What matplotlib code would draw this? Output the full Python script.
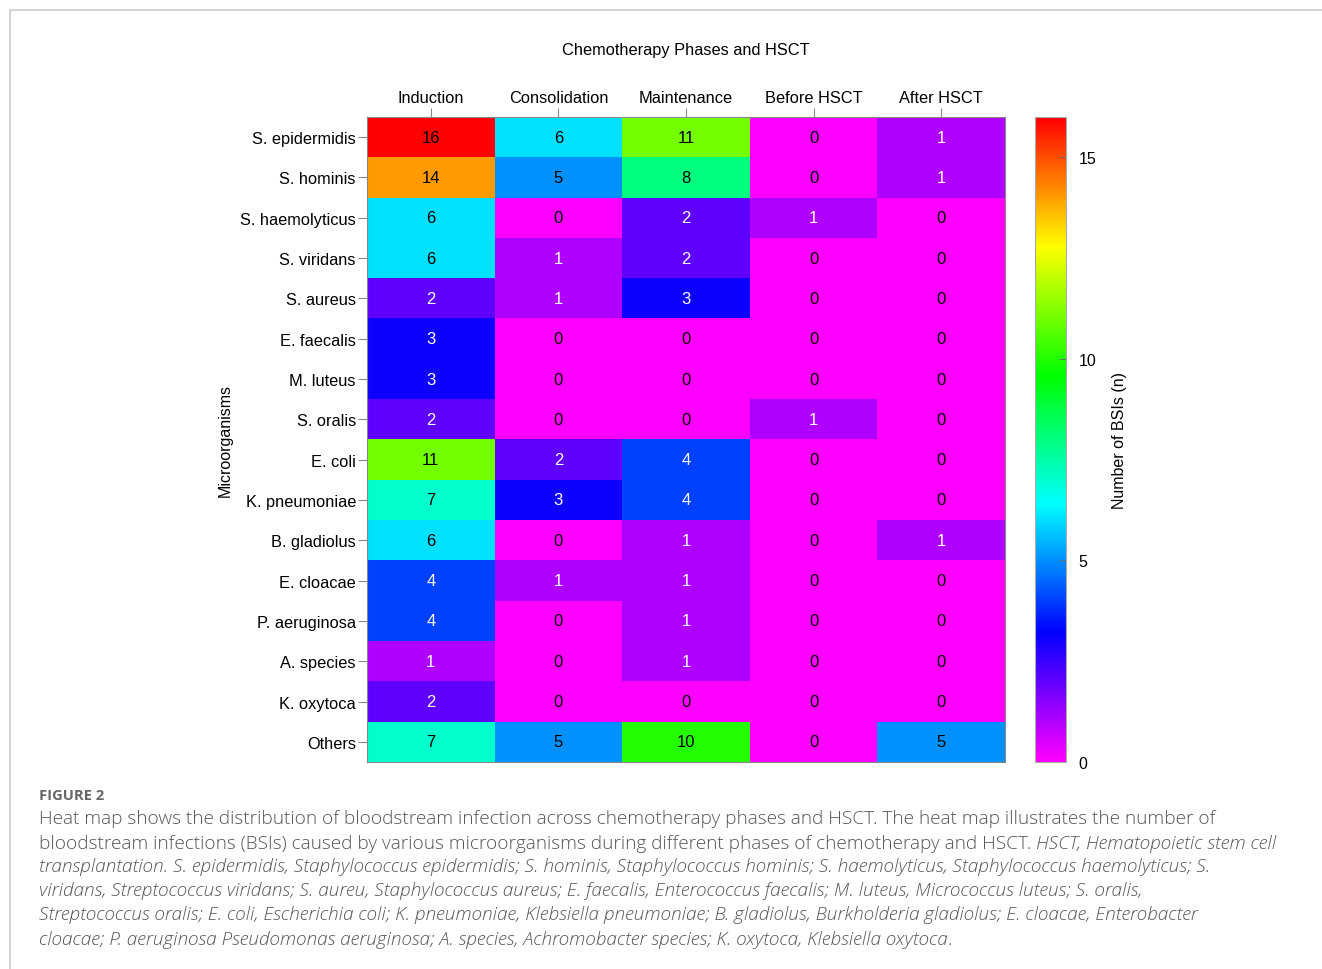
import numpy as np
import matplotlib
matplotlib.use('Agg')
import matplotlib.pyplot as plt
from matplotlib.colors import LinearSegmentedColormap, hsv_to_rgb
from matplotlib.patches import Rectangle

# Heat map of BSIs by organism and chemotherapy phase

organisms = ['S. epidermidis', 'S. hominis', 'S. haemolyticus', 'S. viridans', 'S. aureus',
             'E. faecalis', 'M. luteus', 'S. oralis', 'E. coli', 'K. pneumoniae',
             'B. gladiolus', 'E. cloacae', 'P. aeruginosa', 'A. species', 'K. oxytoca', 'Others']
phases = ['Induction', 'Consolidation', 'Maintenance', 'Before HSCT', 'After HSCT']

induction = [16, 14, 6, 6, 2, 3, 3, 2, 11, 7, 6, 4, 4, 1, 2, 7]
consolidation = [6, 5, 0, 1, 1, 0, 0, 0, 2, 3, 0, 1, 0, 0, 0, 5]
maintenance = [11, 8, 2, 2, 3, 0, 0, 0, 4, 4, 1, 1, 1, 1, 0, 10]
before_hsct = [0, 0, 1, 0, 0, 0, 0, 1, 0, 0, 0, 0, 0, 0, 0, 0]
after_hsct = [1, 1, 0, 0, 0, 0, 0, 0, 0, 0, 1, 0, 0, 0, 0, 5]

cbar_ticks = [0, 5, 10, 15]

counts = np.array([induction, consolidation, maintenance, before_hsct, after_hsct]).T

# magenta -> blue -> cyan -> green -> yellow -> red
hues = np.linspace(300, 0, 256) / 360.0
cols = hsv_to_rgb(np.stack([hues, np.ones_like(hues), np.ones_like(hues)], axis=1))
cmap = LinearSegmentedColormap.from_list('rainbow_rev', cols)

plt.rcParams['font.family'] = ['Liberation Sans', 'DejaVu Sans']

fig = plt.figure(figsize=(13.22, 9.70), dpi=100)
W, H = 1322, 970

# light grey frame around the figure
fig.patches.append(Rectangle((10 / W, -0.05), 1.2, 1 - 11 / H + 0.05, transform=fig.transFigure,
                             fill=False, edgecolor='#cccccc', linewidth=1.2))

ax = fig.add_axes([367 / W, 1 - 763 / H, (1005 - 367) / W, (763 - 118) / H])
im = ax.imshow(counts, cmap=cmap, vmin=0, vmax=16, aspect='auto', interpolation='nearest')

for i in range(counts.shape[0]):
    for j in range(counts.shape[1]):
        v = counts[i, j]
        c = 'white' if 1 <= v <= 4 else 'black'
        ax.text(j, i, str(v), ha='center', va='center', fontsize=12, color=c)

ax.xaxis.tick_top()
ax.set_xticks(range(len(phases)))
ax.set_xticklabels(phases, fontsize=11.8)
ax.set_yticks(range(len(organisms)))
ax.set_yticklabels(organisms, fontsize=11.8)
ax.tick_params(axis='both', length=6.5, width=0.8, color='#888888', pad=1.5)
ax.tick_params(axis='x', pad=2)
for s in ax.spines.values():
    s.set_color('#888888')
    s.set_linewidth(0.8)
ax.set_ylabel('Microorganisms', fontsize=11.5, labelpad=5)
fig.text((367 + 1005) / 2 / W, 1 - 51 / H, 'Chemotherapy Phases and HSCT', fontsize=11.8,
         ha='center', va='center')

cax = fig.add_axes([1035 / W, 1 - 763 / H, 31 / W, (763 - 118) / H])
cb = fig.colorbar(im, cax=cax)
cb.set_ticks(cbar_ticks)
cb.ax.tick_params(direction='in', length=5, width=0.6, color='#666666', labelsize=11.5, pad=9)
cb.outline.set_edgecolor('#aaaaaa')
cb.outline.set_linewidth(0.8)
cb.set_label('Number of BSIs (n)', fontsize=11.5, labelpad=11)

# caption
cap_color = '#555555'
cap_font = ['Open Sans', 'DejaVu Sans']
fig.text(39 / W, 1 - 796 / H, 'FIGURE 2', fontsize=10.6, fontweight='bold', color='#666666',
         family=cap_font, va='center')

caption = [
    [('Heat map shows the distribution of bloodstream infection across chemotherapy phases and HSCT. '
      'The heat map illustrates the number of', 'normal')],
    [('bloodstream infections (BSIs) caused by various microorganisms during different phases of '
      'chemotherapy and HSCT. ', 'normal'), ('HSCT, Hematopoietic stem cell', 'italic')],
    [('transplantation. S. epidermidis, Staphylococcus epidermidis; S. hominis, Staphylococcus hominis; '
      'S. haemolyticus, Staphylococcus haemolyticus; S.', 'italic')],
    [('viridans, Streptococcus viridans; S. aureu, Staphylococcus aureus; E. faecalis, Enterococcus '
      'faecalis; M. luteus, Micrococcus luteus; S. oralis,', 'italic')],
    [('Streptococcus oralis; E. coli, Escherichia coli; K. pneumoniae, Klebsiella pneumoniae; '
      'B. gladiolus, Burkholderia gladiolus; E. cloacae, Enterobacter', 'italic')],
    [('cloacae; P. aeruginosa Pseudomonas aeruginosa; A. species, Achromobacter species; K. oxytoca, '
      'Klebsiella oxytoca', 'italic'), ('.', 'normal')],
]
line_y = [819, 844, 867, 891, 915, 940]

renderer = fig.canvas.get_renderer()
for parts, y in zip(caption, line_y):
    x = 39 / W
    for txt, style in parts:
        t = fig.text(x, 1 - y / H, txt, fontsize=13.65, style=style, color=cap_color,
                     family=cap_font, fontweight='light', va='center')
        bb = t.get_window_extent(renderer=renderer)
        x = x + bb.width / W

fig.savefig('out.png', dpi=100)
